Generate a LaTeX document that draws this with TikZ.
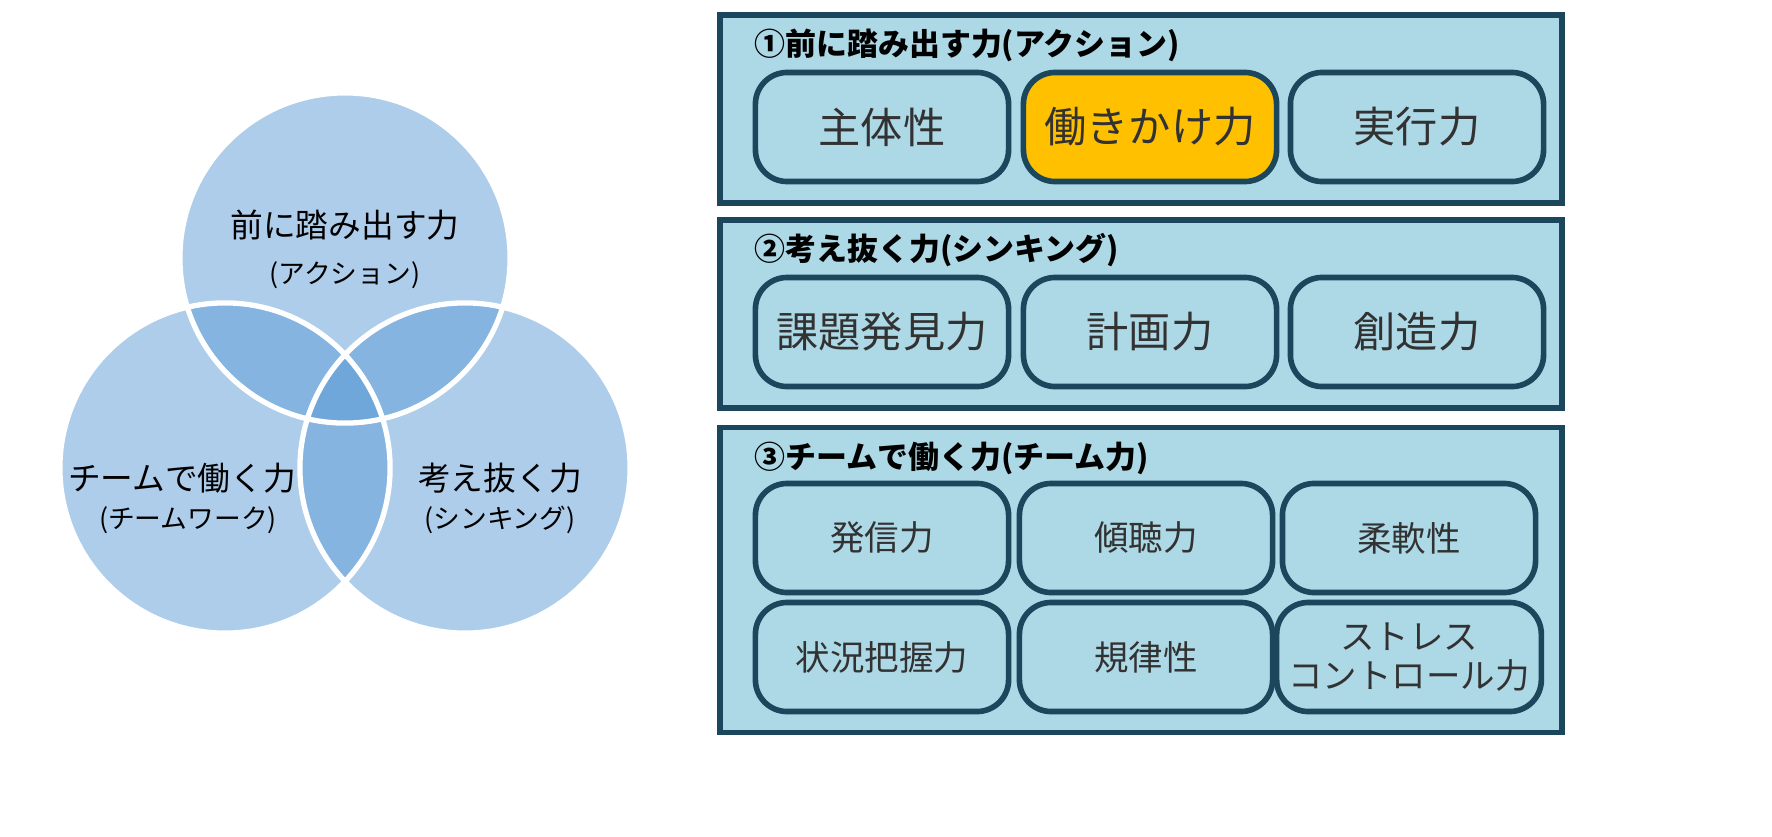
\documentclass[tikz,border=0pt]{standalone}
\usepackage{fontspec}
\setmainfont{Noto Sans CJK JP}
\usetikzlibrary{positioning}
\definecolor{circblue}{RGB}{91,155,213}
\definecolor{panelfill}{RGB}{173,216,230}
\definecolor{paneldraw}{RGB}{28,70,92}
\definecolor{hilite}{RGB}{255,192,0}
\definecolor{txtgray}{RGB}{50,50,50}

\begin{document}
\begin{tikzpicture}[
        x=0.01cm, y=-0.01cm,
        Panel/.style ={draw=paneldraw, fill=panelfill, line width=1.6pt, rectangle,
            minimum width=8.42cm, minimum height=#1, inner sep=0pt},
        Panel/.default=1.88cm,
        Item/.style ={draw=paneldraw, fill=panelfill, line width=1.6pt, rounded corners=9pt,
            minimum width=2.53cm, minimum height=1.09cm, text=txtgray, font=\fontsize{12}{13}\selectfont,
            align=center},
        SmallItem/.style ={Item, font=\fontsize{9.8}{11}\selectfont},
        Title/.style ={anchor=west, font=\bfseries\fontsize{8.8}{10}\selectfont},
        Label/.style ={font=\fontsize{9.3}{11}\selectfont},
        SubLabel/.style ={font=\fontsize{7.6}{9}\selectfont}
    ]
    % Venn
    \fill[circblue, opacity=0.5] (345,258) circle [radius=1.65cm];
    \fill[circblue, opacity=0.5] (225,468) circle [radius=1.65cm];
    \fill[circblue, opacity=0.5] (465,468) circle [radius=1.65cm];
    \draw[white, line width=1.5pt] (345,258) circle [radius=1.65cm] (225,468) circle [radius=1.65cm] (465,468) circle [radius=1.65cm];

    \node[Label] (action) at (345,225) {前に踏み出す力};
    \node[SubLabel] (actsub) at (345,275) {(アクション)};
    \node[Label] (team) at (182,478) {チームで働く力};
    \node[SubLabel] (teamsub) at (188,520) {(チームワーク)};
    \node[Label] (think) at (500,478) {考え抜く力};
    \node[SubLabel] (thinksub) at (500,520) {(シンキング)};

    % panels
    \node[Panel] (p1) at (1141,109) {};
    \node[Panel] (p2) at (1141,314) {};
    \node[Panel=3.05cm] (p3) at (1141,580) {};
    \node[Title] (t1) at (742,45) {①前に踏み出す力(アクション)};
    \node[Title] (t2) at (742,250) {②考え抜く力(シンキング)};
    \node[Title] (t3) at (742,458) {③チームで働く力(チーム力)};

    \node[Item] (a1) at (882,127) {主体性};
    \node[Item, fill=hilite] (a2) at (1150,127) {働きかけ力};
    \node[Item] (a3) at (1417,127) {実行力};

    \node[Item] (b1) at (882,332) {課題発見力};
    \node[Item] (b2) at (1150,332) {計画力};
    \node[Item] (b3) at (1417,332) {創造力};

    \node[SmallItem] (c1) at (882,538) {発信力};
    \node[SmallItem] (c2) at (1146,538) {傾聴力};
    \node[SmallItem] (c3) at (1409,538) {柔軟性};
    \node[SmallItem] (c4) at (882,657) {状況把握力};
    \node[SmallItem] (c5) at (1146,657) {規律性};
    \node[SmallItem] (c6) at (1409,657) {ストレス\\コントロール力};

    \pgfresetboundingbox
    \path[use as bounding box] (0,0) rectangle (1772,836);
\end{tikzpicture}
\end{document}
